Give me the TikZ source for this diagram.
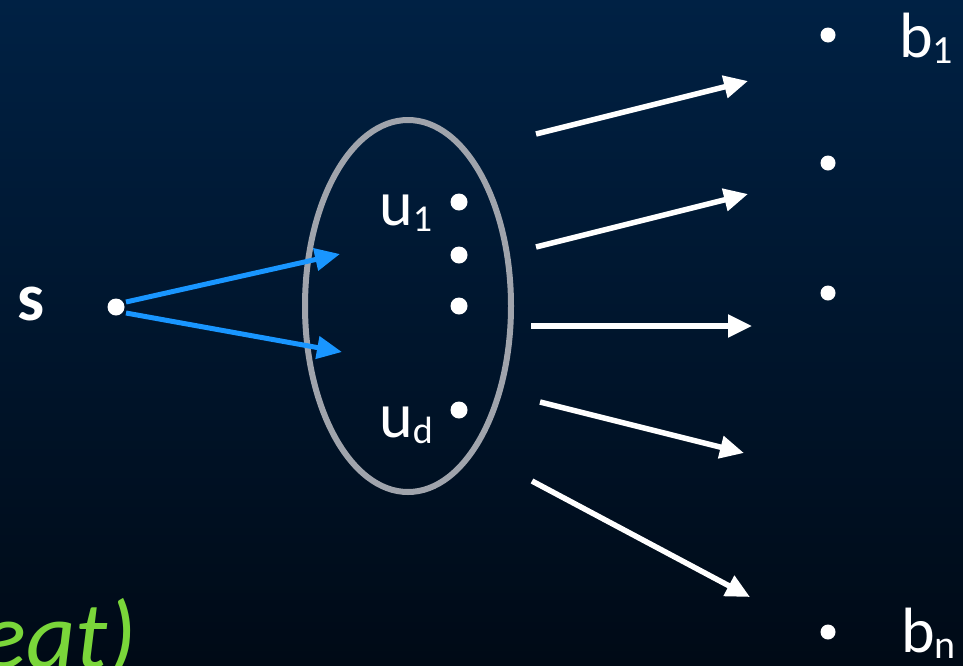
\documentclass[tikz,border=0pt]{standalone}
\usepackage{fontspec}
\setmainfont{Carlito}
\usetikzlibrary{arrows.meta,shapes.geometric}
\definecolor{bgtop}{RGB}{0,33,68}
\definecolor{bgbot}{RGB}{0,10,22}
\definecolor{arrblue}{RGB}{25,150,255}
\definecolor{ellgray}{RGB}{160,164,172}
\definecolor{limegreen}{RGB}{122,214,58}
\begin{document}
\begin{tikzpicture}[x=1pt,y=-1pt,
  dot/.style={circle,fill=white,inner sep=0pt,minimum size=17pt},
  bdot/.style={circle,fill=white,inner sep=0pt,minimum size=15pt},
  lbl/.style={text=white,inner sep=0pt,anchor=base west,font=\fontsize{64}{64}\selectfont},
  warrow/.style={draw=white,line width=5.5pt,-{Triangle[length=24pt,width=22pt]}},
  barrow/.style={draw=arrblue,line width=5pt,-{Triangle[length=25pt,width=22pt]}}]
\shade[top color=bgtop,bottom color=bgbot] (0,0) rectangle (963,665);
\useasboundingbox (0,0) rectangle (963,665);

% ellipse
\node[ellipse,draw=ellgray,line width=6pt,minimum width=206pt,minimum height=372pt,inner sep=0pt] (ell) at (408,306) {};

% s
\node[text=white,inner sep=0pt,anchor=base west,font=\bfseries\fontsize{68}{68}\selectfont] (slbl) at (17,320) {s};
\node[dot] (s) at (116,307) {};
\coordinate (bt1) at (340,254);
\coordinate (bt2) at (342,352);
\coordinate (ss1) at (126,302);
\coordinate (ss2) at (126,313);
\draw[barrow] (ss1) -- (bt1);
\draw[barrow] (ss2) -- (bt2);

% u dots
\node[dot] (u1) at (459,202) {};
\node[dot] (u2) at (459,255) {};
\node[dot] (u3) at (459,306) {};
\node[dot] (ud) at (459,410) {};
\node[lbl] (u1l) at (379,225) {u\raisebox{-6pt}{\fontsize{38}{38}\selectfont 1}};
\node[lbl] (udl) at (379,437) {u\raisebox{-6pt}{\fontsize{38}{38}\selectfont d}};

% b dots
\node[bdot] (b1) at (828,35) {};
\node[bdot] (b2) at (828,163) {};
\node[bdot] (b3) at (828,293) {};
\node[bdot] (bn) at (828,632) {};
\node[lbl] (b1l) at (899,57) {b\raisebox{-6pt}{\fontsize{40}{40}\selectfont 1}};
\node[lbl] (bnl) at (901,652) {b\raisebox{-6pt}{\fontsize{40}{40}\selectfont n}};

% white arrows
\coordinate (w1s) at (536,134); \coordinate (w1e) at (748,81);
\coordinate (w2s) at (536,247); \coordinate (w2e) at (748,194);
\coordinate (w3s) at (531,326); \coordinate (w3e) at (752,326);
\coordinate (w4s) at (540,402); \coordinate (w4e) at (744,453);
\coordinate (w5s) at (532,481); \coordinate (w5e) at (750,597);
\draw[warrow] (w1s) -- (w1e);
\draw[warrow] (w2s) -- (w2e);
\draw[warrow] (w3s) -- (w3e);
\draw[warrow] (w4s) -- (w4e);
\draw[warrow] (w5s) -- (w5e);

% green text
\node[text=limegreen,inner sep=0pt,anchor=base west,font=\itshape\fontsize{96}{96}\selectfont] (rep) at (-20,668) {eat)};
\end{tikzpicture}
\end{document}
